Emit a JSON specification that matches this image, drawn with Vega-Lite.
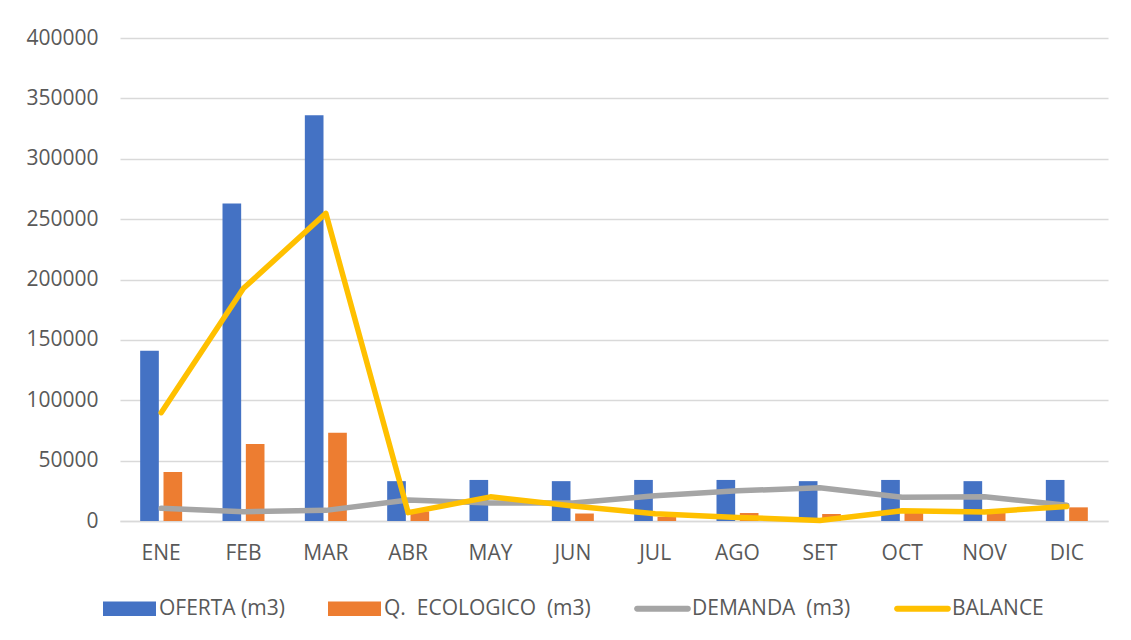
{
  "$schema": "https://vega.github.io/schema/vega-lite/v6.json",
  "width": 988,
  "height": 483,
  "autosize": {"type": "none"},
  "padding": {"left": 120, "top": 38, "right": 23, "bottom": 119},
  "background": "white",
  "config": {
    "view": {"stroke": null},
    "font": "Open Sans",
    "axis": {
      "labelFont": "Open Sans",
      "labelFontSize": 21,
      "labelColor": "#595959",
      "ticks": false,
      "title": null,
      "gridColor": "#d9d9d9",
      "gridWidth": 1.5
    }
  },
  "data": {
    "values": [
      {"mes": "ENE", "serie": "OFERTA (m3)", "valor": 141000},
      {"mes": "FEB", "serie": "OFERTA (m3)", "valor": 263000},
      {"mes": "MAR", "serie": "OFERTA (m3)", "valor": 336000},
      {"mes": "ABR", "serie": "OFERTA (m3)", "valor": 33000},
      {"mes": "MAY", "serie": "OFERTA (m3)", "valor": 34000},
      {"mes": "JUN", "serie": "OFERTA (m3)", "valor": 33000},
      {"mes": "JUL", "serie": "OFERTA (m3)", "valor": 34000},
      {"mes": "AGO", "serie": "OFERTA (m3)", "valor": 34000},
      {"mes": "SET", "serie": "OFERTA (m3)", "valor": 33000},
      {"mes": "OCT", "serie": "OFERTA (m3)", "valor": 34000},
      {"mes": "NOV", "serie": "OFERTA (m3)", "valor": 33000},
      {"mes": "DIC", "serie": "OFERTA (m3)", "valor": 34000},

      {"mes": "ENE", "serie": "Q.\u00a0 ECOLOGICO\u00a0 (m3)", "valor": 40600},
      {"mes": "FEB", "serie": "Q.\u00a0 ECOLOGICO\u00a0 (m3)", "valor": 63800},
      {"mes": "MAR", "serie": "Q.\u00a0 ECOLOGICO\u00a0 (m3)", "valor": 73100},
      {"mes": "ABR", "serie": "Q.\u00a0 ECOLOGICO\u00a0 (m3)", "valor": 8000},
      {"mes": "MAY", "serie": "Q.\u00a0 ECOLOGICO\u00a0 (m3)", "valor": 0},
      {"mes": "JUN", "serie": "Q.\u00a0 ECOLOGICO\u00a0 (m3)", "valor": 6200},
      {"mes": "JUL", "serie": "Q.\u00a0 ECOLOGICO\u00a0 (m3)", "valor": 3400},
      {"mes": "AGO", "serie": "Q.\u00a0 ECOLOGICO\u00a0 (m3)", "valor": 6600},
      {"mes": "SET", "serie": "Q.\u00a0 ECOLOGICO\u00a0 (m3)", "valor": 5800},
      {"mes": "OCT", "serie": "Q.\u00a0 ECOLOGICO\u00a0 (m3)", "valor": 7000},
      {"mes": "NOV", "serie": "Q.\u00a0 ECOLOGICO\u00a0 (m3)", "valor": 6600},
      {"mes": "DIC", "serie": "Q.\u00a0 ECOLOGICO\u00a0 (m3)", "valor": 11300},

      {"mes": "ENE", "serie": "DEMANDA\u00a0 (m3)", "valor": 10500},
      {"mes": "FEB", "serie": "DEMANDA\u00a0 (m3)", "valor": 7700},
      {"mes": "MAR", "serie": "DEMANDA\u00a0 (m3)", "valor": 8800},
      {"mes": "ABR", "serie": "DEMANDA\u00a0 (m3)", "valor": 17400},
      {"mes": "MAY", "serie": "DEMANDA\u00a0 (m3)", "valor": 15000},
      {"mes": "JUN", "serie": "DEMANDA\u00a0 (m3)", "valor": 15000},
      {"mes": "JUL", "serie": "DEMANDA\u00a0 (m3)", "valor": 21000},
      {"mes": "AGO", "serie": "DEMANDA\u00a0 (m3)", "valor": 25000},
      {"mes": "SET", "serie": "DEMANDA\u00a0 (m3)", "valor": 27500},
      {"mes": "OCT", "serie": "DEMANDA\u00a0 (m3)", "valor": 19600},
      {"mes": "NOV", "serie": "DEMANDA\u00a0 (m3)", "valor": 20000},
      {"mes": "DIC", "serie": "DEMANDA\u00a0 (m3)", "valor": 13000},

      {"mes": "ENE", "serie": "BALANCE", "valor": 89700},
      {"mes": "FEB", "serie": "BALANCE", "valor": 192700},
      {"mes": "MAR", "serie": "BALANCE", "valor": 254800},
      {"mes": "ABR", "serie": "BALANCE", "valor": 6900},
      {"mes": "MAY", "serie": "BALANCE", "valor": 20000},
      {"mes": "JUN", "serie": "BALANCE", "valor": 12500},
      {"mes": "JUL", "serie": "BALANCE", "valor": 6000},
      {"mes": "AGO", "serie": "BALANCE", "valor": 3000},
      {"mes": "SET", "serie": "BALANCE", "valor": 500},
      {"mes": "OCT", "serie": "BALANCE", "valor": 8500},
      {"mes": "NOV", "serie": "BALANCE", "valor": 7500},
      {"mes": "DIC", "serie": "BALANCE", "valor": 12000}
    ]
  },
  "encoding": {
    "x": {
      "field": "mes",
      "type": "nominal",
      "sort": ["ENE", "FEB", "MAR", "ABR", "MAY", "JUN", "JUL", "AGO", "SET", "OCT", "NOV", "DIC"],
      "scale": {"paddingInner": 0.49, "paddingOuter": 0.245},
      "axis": {
        "labelAngle": 0,
        "labelPadding": 21,
        "domain": true,
        "domainColor": "#d9d9d9",
        "domainWidth": 1.5,
        "grid": false
      }
    },
    "y": {
      "field": "valor",
      "type": "quantitative",
      "scale": {"domain": [0, 400000], "nice": false},
      "axis": {
        "values": [0, 50000, 100000, 150000, 200000, 250000, 300000, 350000, 400000],
        "format": "d",
        "domain": false,
        "labelPadding": 22
      }
    },
    "color": {
      "field": "serie",
      "type": "nominal",
      "scale": {
        "domain": ["OFERTA (m3)", "Q.\u00a0 ECOLOGICO\u00a0 (m3)", "DEMANDA\u00a0 (m3)", "BALANCE"],
        "range": ["#4472C4", "#ED7D31", "#A5A5A5", "#FFC000"]
      },
      "legend": {
        "orient": "none",
        "legendX": -17,
        "legendY": 544,
        "direction": "horizontal",
        "columns": 4,
        "title": null,
        "padding": 0,
        "symbolType": "square",
        "symbolSize": 2809,
        "symbolStrokeWidth": 0,
        "labelFont": "Open Sans",
        "labelFontSize": 21,
        "labelColor": "#595959",
        "labelOffset": 3,
        "labelLimit": 500,
        "columnPadding": 43,
        "encode": {
          "symbols": {
            "update": {
              "shape": {"signal": "datum.value === 'BALANCE' || datum.value === 'DEMANDA\u00a0 (m3)' ? 'M-0.96,-0.11H0.96A0.11,0.11,0,0,1,0.96,0.11H-0.96A0.11,0.11,0,0,1,-0.96,-0.11Z' : 'M-1,-0.27H1V0.27H-1Z'"},
              "fill": {"scale": "color", "field": "value"},
              "stroke": {"value": "transparent"},
              "opacity": {"value": 1}
            }
          }
        }
      }
    }
  },
  "layer": [
    {
      "transform": [{"filter": "datum.serie === 'OFERTA (m3)' || datum.serie === 'Q.\u00a0 ECOLOGICO\u00a0 (m3)'"}],
      "mark": {"type": "bar"},
      "encoding": {
        "xOffset": {
          "field": "serie",
          "type": "nominal",
          "scale": {"domain": ["OFERTA (m3)", "Q.\u00a0 ECOLOGICO\u00a0 (m3)"], "paddingInner": 0.2, "paddingOuter": 0}
        }
      }
    },
    {
      "transform": [{"filter": "datum.serie === 'DEMANDA\u00a0 (m3)'"}],
      "mark": {"type": "line", "strokeWidth": 5.5, "strokeCap": "round", "strokeJoin": "round"}
    },
    {
      "transform": [{"filter": "datum.serie === 'BALANCE'"}],
      "mark": {"type": "line", "strokeWidth": 5.5, "strokeCap": "round", "strokeJoin": "round"}
    }
  ]
}
